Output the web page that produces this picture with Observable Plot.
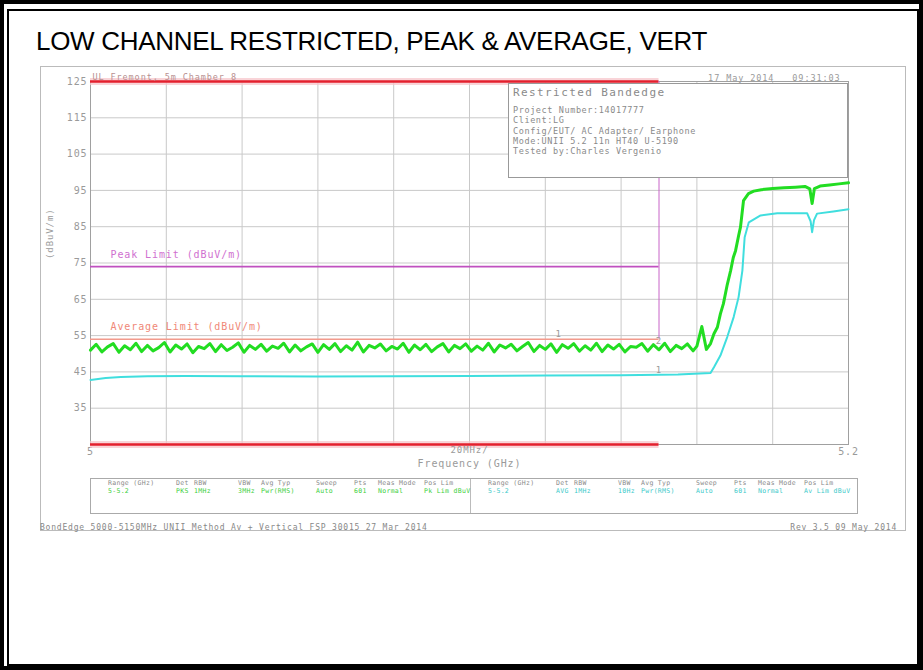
<!DOCTYPE html>
<html>
<head>
<meta charset="utf-8">
<script src="https://cdn.jsdelivr.net/npm/d3@7"></script>
<script src="https://cdn.jsdelivr.net/npm/@observablehq/plot@0.6"></script>
<style>
html,body{margin:0;padding:0;background:#fff;}
#page{position:relative;width:923px;height:670px;overflow:hidden;background:#fff;font-family:"DejaVu Sans Mono",monospace;}
.b-outer{position:absolute;left:0;top:0;width:923px;height:670px;box-sizing:border-box;border:4px solid #000;}
.b-inner{position:absolute;left:7px;top:9px;width:912px;height:657px;box-sizing:border-box;border:2px solid #000;}
#title{position:absolute;left:36px;top:28px;font-family:"Liberation Sans",Arial,sans-serif;font-size:26px;line-height:26px;letter-spacing:-0.3px;color:#000;white-space:nowrap;}
#shot{position:absolute;left:40px;top:66px;width:866px;height:465px;box-sizing:border-box;border:1px solid #bbb;}
#chart{position:absolute;left:0;top:0;}
#chart svg text{letter-spacing:0.9px;}
#info{position:absolute;left:508px;top:83px;width:340px;height:95px;box-sizing:border-box;border:1px solid #999;background:#fff;color:#8a8a8a;}
#info span{position:absolute;left:4px;white-space:nowrap;font-size:8.5px;line-height:10px;letter-spacing:0.6px;}
#info span.h{font-size:11px;line-height:12px;letter-spacing:1.4px;}
#table{position:absolute;left:90px;top:478px;width:768px;height:36px;box-sizing:border-box;border:1px solid #aaa;}
#table .div{position:absolute;left:379px;top:0;width:1px;height:34px;background:#bbb;}
#table span{position:absolute;white-space:nowrap;font-size:6.5px;line-height:7px;letter-spacing:0.3px;}
.foot{position:absolute;top:523px;font-size:8px;line-height:9px;letter-spacing:0.8px;color:#888;white-space:nowrap;}
</style>
</head>
<body>
<div id="page">
  <div id="shot"></div>
  <div id="chart"></div>
  <div id="info"></div>
  <div id="table"><div class="div"></div></div>
  <div class="foot" id="footL"></div>
  <div class="foot" id="footR"></div>
  <div id="title"></div>
  <div class="b-outer"></div>
  <div class="b-inner"></div>
</div>
<script>
// ---------- texts ----------
const titleText = "LOW CHANNEL RESTRICTED, PEAK & AVERAGE, VERT";
const siteText = "UL Fremont, 5m Chamber 8";
const dateText = "17 May 2014   09:31:03";
const yAxisLabel = "(dBuV/m)";
const spanLabel = "20MHz/";
const xAxisLabel = "Frequency (GHz)";
const peakLimitLabel = "Peak Limit (dBuV/m)";
const avgLimitLabel = "Average Limit (dBuV/m)";
const infoLines = ["Restricted Bandedge", "Project Number:14017777", "Client:LG",
  "Config/EUT/ AC Adapter/ Earphone", "Mode:UNII 5.2 11n HT40 U-5190", "Tested by:Charles Vergenio"];
const tableHeaders = ["Range (GHz)", "Det", "RBW", "VBW", "Avg Typ", "Sweep", "Pts", "Meas Mode", "Pos Lim"];
const peakSettings = ["5-5.2", "PKS", "1MHz", "3MHz", "Pwr(RMS)", "Auto", "601", "Normal", "Pk Lim dBuV"];
const avgSettings = ["5-5.2", "AVG", "1MHz", "10Hz", "Pwr(RMS)", "Auto", "601", "Normal", "Av Lim dBuV"];
const footLeft = "BondEdge 5000-5150MHz UNII Method Av + Vertical FSP 30015 27 Mar 2014";
const footRight = "Rev 3.5 09 May 2014";

// ---------- scales / ticks ----------
const xDomain = [5.0, 5.2];
const yDomain = [25, 125];
const xGrid = [5.00, 5.02, 5.04, 5.06, 5.08, 5.10, 5.12, 5.14, 5.16, 5.18, 5.20];
const yGrid = [25, 35, 45, 55, 65, 75, 85, 95, 105, 115, 125];
const yTickLabels = [35, 45, 55, 65, 75, 85, 95, 105, 115, 125];
const xTickLabels = [5, 5.2];

// ---------- limits ----------
const bandStart = 5.0;
const bandEdge = 5.15;
const bandLevels = [125, 25];
const peakLimit = 74;
const avgLimit = 54;

// ---------- peak trace (green) ----------
const peakFreq = [
  5.0000,5.0015,5.0030,5.0045,5.0060,5.0075,5.0090,5.0105,5.0120,5.0135,
  5.0150,5.0165,5.0180,5.0195,5.0210,5.0225,5.0240,5.0255,5.0270,5.0285,
  5.0300,5.0315,5.0330,5.0345,5.0360,5.0375,5.0390,5.0405,5.0420,5.0435,
  5.0450,5.0465,5.0480,5.0495,5.0510,5.0525,5.0540,5.0555,5.0570,5.0585,
  5.0600,5.0615,5.0630,5.0645,5.0660,5.0675,5.0690,5.0705,5.0720,5.0735,
  5.0750,5.0765,5.0780,5.0795,5.0810,5.0825,5.0840,5.0855,5.0870,5.0885,
  5.0900,5.0915,5.0930,5.0945,5.0960,5.0975,5.0990,5.1005,5.1020,5.1035,
  5.1050,5.1065,5.1080,5.1095,5.1110,5.1125,5.1140,5.1155,5.1170,5.1185,
  5.1200,5.1215,5.1230,5.1245,5.1260,5.1275,5.1290,5.1305,5.1320,5.1335,
  5.1350,5.1365,5.1380,5.1395,5.1410,5.1425,5.1440,5.1455,5.1470,5.1485,
  5.1500,5.1515,5.1530,5.1545,5.1560,5.1575,5.1590,5.1600,
  5.1613,5.1625,5.1636,5.1645,5.1654,5.1662,5.1670,5.1680,5.1689,
  5.1696,5.1702,5.1710,5.1715,5.1723,5.1736,5.1750,5.1770,5.1800,5.1830,
  5.1860,5.1885,5.1898,5.1904,5.1910,5.1925,5.1950,5.1975,5.2000];
const peakLevel = [
  51.0,52.6,50.5,51.9,52.8,50.4,52.2,51.1,52.9,50.6,
  52.3,50.8,51.7,53.1,50.5,52.4,51.3,52.7,50.3,52.0,
  51.4,52.8,50.6,52.5,50.9,51.8,53.0,50.4,52.3,51.2,
  52.6,50.7,52.1,51.5,52.9,50.5,52.4,50.8,51.9,52.7,
  50.4,52.5,51.2,52.8,50.6,52.2,51.0,53.2,50.5,52.3,
  51.6,52.7,50.8,52.0,51.3,52.9,50.4,52.4,51.1,52.6,
  50.6,51.9,52.8,50.5,52.3,51.4,52.7,50.7,52.1,51.0,
  52.9,50.5,52.4,51.6,52.6,50.8,52.0,53.1,50.6,52.3,
  51.2,52.7,50.4,52.5,51.5,52.8,50.7,52.2,51.0,52.9,
  50.6,52.4,51.3,52.6,50.5,52.0,51.8,52.8,50.7,52.5,
  51.1,52.9,50.6,52.3,51.4,52.7,50.8,52.1,
  57.5,51.2,52.8,55.5,57.3,61.0,63.8,69.0,72.9,
  76.5,78.4,82.5,84.9,92.2,94.1,94.8,95.2,95.5,95.7,
  95.9,96.1,95.4,91.4,95.5,96.2,96.5,96.8,97.1];

// ---------- average trace (cyan) ----------
const avgFreq = [5.000,5.004,5.008,5.015,5.025,5.040,5.060,5.080,5.100,5.120,
  5.140,5.155,5.1636,5.1645,5.1662,5.1680,5.1697,5.1710,5.1720,5.1726,
  5.1737,5.1768,5.1812,5.1891,5.1900,5.1904,5.1909,5.1917,5.1960,5.2000];
const avgLevel = [42.8,43.3,43.6,43.8,43.9,43.8,43.7,43.8,43.9,44.0,
  44.1,44.3,44.7,46.3,49.5,54.6,60.1,65.6,72.9,82.1,
  86.2,88.1,88.7,88.7,86.5,83.5,86.8,88.6,89.2,89.8];

const peakData = peakFreq.map((f, i) => ({f, v: peakLevel[i]}));
const avgData = avgFreq.map((f, i) => ({f, v: avgLevel[i]}));

// ---------- markers ----------
const markers = [
  {f: 5.1235, v: 55.5, label: "1"},
  {f: 5.1500, v: 45.5, label: "1"},
  {f: 5.1500, v: 53.5, label: "2"}
];

const gray = "#9a9a9a";
const chart = Plot.plot({
  width: 923, height: 670,
  marginLeft: 90, marginRight: 75, marginTop: 81, marginBottom: 226,
  style: {fontFamily: "DejaVu Sans Mono, monospace", fontSize: "10px", background: "transparent", color: gray, overflow: "visible"},
  x: {domain: xDomain, axis: null},
  y: {domain: yDomain, axis: null},
  marks: [
    Plot.gridX(xGrid, {stroke: "#c9c9c9", strokeOpacity: 1}),
    Plot.gridY(yGrid, {stroke: "#c9c9c9", strokeOpacity: 1}),
    Plot.frame({stroke: "#a0a0a0"}),
    Plot.axisY(yTickLabels, {tickSize: 0, tickPadding: 3, label: null, fill: gray, fontSize: 10}),
    Plot.axisX(xTickLabels, {tickSize: 0, tickPadding: 3, label: null, fill: gray, fontSize: 10, tickFormat: d => String(d)}),
    // band edge lines
    Plot.ruleY(bandLevels, {x1: bandStart, x2: bandEdge, stroke: "#f7c2c8", strokeWidth: 7, strokeOpacity: 0.7}),
    Plot.ruleY(bandLevels, {x1: bandStart, x2: bandEdge, stroke: "#e3202e", strokeWidth: 2.5}),
    // limits
    Plot.ruleX([bandEdge], {y1: avgLimit, y2: 125, stroke: "#c865c8", strokeWidth: 1}),
    Plot.ruleY([peakLimit], {x1: bandStart, x2: bandEdge, stroke: "#c050c0", strokeWidth: 1.6}),
    Plot.ruleY([avgLimit], {x1: bandStart, x2: bandEdge, stroke: "#f29a8c", strokeWidth: 1.6}),
    Plot.text([peakLimitLabel], {x: bandStart, y: peakLimit, text: d => d, textAnchor: "start", dx: 20, dy: -12, fill: "#d070d0", fontSize: 10}),
    Plot.text([avgLimitLabel], {x: bandStart, y: avgLimit, text: d => d, textAnchor: "start", dx: 20, dy: -12, fill: "#f08878", fontSize: 10}),
    // traces
    Plot.line(avgData, {x: "f", y: "v", stroke: "#40dede", strokeWidth: 2}),
    Plot.line(peakData, {x: "f", y: "v", stroke: "#22dd22", strokeWidth: 3}),
    Plot.text(markers, {x: "f", y: "v", text: "label", fill: gray, fontSize: 9}),
    // header / axis texts
    Plot.text([siteText], {frameAnchor: "top-left", text: d => d, textAnchor: "start", dx: 2, dy: -8, fill: "#b89090", fontSize: 8.5}),
    Plot.text([dateText], {frameAnchor: "top-right", text: d => d, textAnchor: "end", dx: -8, dy: -7, fill: gray, fontSize: 8.5}),
    Plot.text([spanLabel], {frameAnchor: "bottom", text: d => d, dy: 8, fill: gray, fontSize: 9}),
    Plot.text([xAxisLabel], {frameAnchor: "bottom", text: d => d, dy: 22, fill: gray, fontSize: 10}),
    Plot.text([yAxisLabel], {frameAnchor: "left", text: d => d, rotate: -90, dx: -40, dy: -4, fill: gray, fontSize: 9})
  ]
});
document.getElementById("chart").appendChild(chart);

// ---------- HTML overlays ----------
document.getElementById("title").textContent = titleText;
const info = document.getElementById("info");
const infoTops = [3, 21, 31, 42, 52, 62];
infoLines.forEach((t, i) => {
  const s = document.createElement("span");
  s.textContent = t;
  if (i === 0) s.className = "h";
  s.style.top = infoTops[i] + "px";
  info.appendChild(s);
});
const table = document.getElementById("table");
const leftCols = [17, 85, 103, 147, 170, 225, 263, 287, 333];
function addRow(texts, x0, top, color) {
  texts.forEach((t, i) => {
    const s = document.createElement("span");
    s.textContent = t;
    s.style.left = (x0 + leftCols[i]) + "px";
    s.style.top = top + "px";
    s.style.color = color;
    table.appendChild(s);
  });
}
addRow(tableHeaders, 0, 1, "#8a8a8a");
addRow(peakSettings, 0, 9, "#3ccf3c");
addRow(tableHeaders, 380, 1, "#8a8a8a");
addRow(avgSettings, 380, 9, "#3ccaca");
const fl = document.getElementById("footL");
fl.textContent = footLeft; fl.style.left = "40px";
const fr = document.getElementById("footR");
fr.textContent = footRight; fr.style.right = "26px";
</script>
</body>
</html>
